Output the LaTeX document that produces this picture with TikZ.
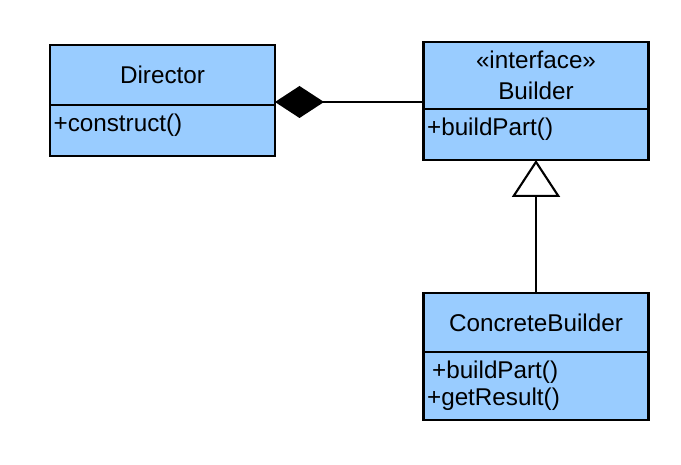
\documentclass[tikz,border=0pt]{standalone}
\usepackage{fontspec}
\setmainfont{Liberation Sans}
\usetikzlibrary{arrows.meta,positioning}
\definecolor{umlblue}{HTML}{99CCFF}
\begin{document}
\begin{tikzpicture}[
  font=\fontsize{13.8}{17}\selectfont,
  part/.style={draw,fill=umlblue,line width=1.6pt,minimum width=4.5cm,
    inner sep=0pt,outer sep=0pt,anchor=north west},
  member/.style={anchor=north west,inner sep=1pt,align=left},
  link/.style={line width=1.2pt}
]
\useasboundingbox (0,0) rectangle (13.62,9.3);

% --- Director ---
\node[part,minimum height=1.2cm] (dirHead) at (1.0,8.4) {Director};
\node[part,minimum height=1.02cm,below=0pt of dirHead] (dirBody) {};
\node[member] (dirOps) at ([shift={(0.03,-0.14)}]dirBody.north west) {+construct()};

% --- Builder ---
\node[part,minimum height=1.34cm,align=center,
  font=\fontsize{13.8}{17.5}\selectfont] (bldHead) at (8.47,8.46) {«interface»\\Builder};
\node[part,minimum height=1.02cm,below=0pt of bldHead] (bldBody) {};
\node[member] (bldOps) at ([shift={(0.03,-0.14)}]bldBody.north west) {+buildPart()};

% --- ConcreteBuilder ---
\node[part,minimum height=1.18cm] (cbHead) at (8.47,3.44) {ConcreteBuilder};
\node[part,minimum height=1.36cm,below=0pt of cbHead] (cbBody) {};
\node[member,font=\fontsize{13.8}{15.3}\selectfont] (cbOps)
  at ([shift={(0.03,-0.14)}]cbBody.north west) {\hspace{0.1cm}+buildPart()\\+getResult()};

% --- relations ---
\coordinate[above=0.06cm of dirHead.south east] (dirJoin);
\draw[link,-{Diamond[length=0.98cm,width=0.64cm,fill=black]}]
  (bldHead.west |- dirJoin) -- (dirJoin);
\draw[link,-{Triangle[length=0.74cm,width=0.96cm,fill=white]}]
  (cbHead.north) -- (bldBody.south);

\end{tikzpicture}
\end{document}
